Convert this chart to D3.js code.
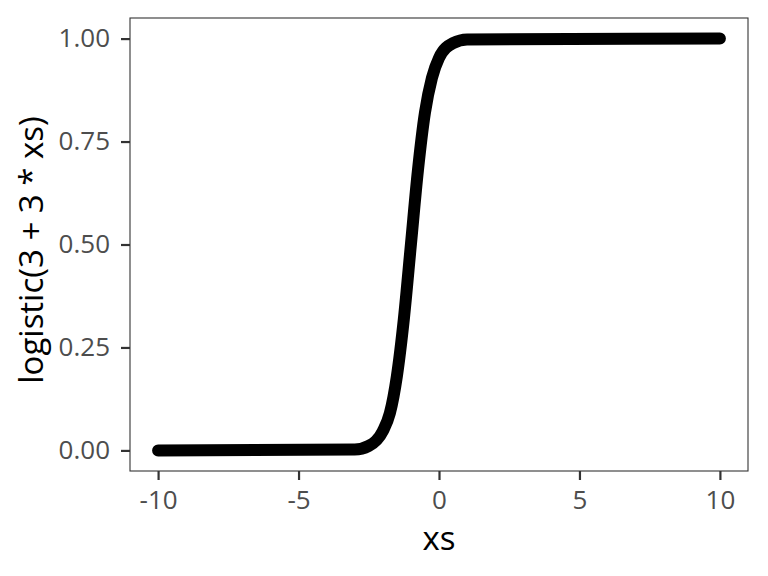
<!DOCTYPE html>
<html>
<head>
<meta charset="utf-8">
<script src="https://cdn.jsdelivr.net/npm/d3@7"></script>
<style>
  body { margin: 0; background: #fff; }
  text { font-family: "Open Sans", sans-serif; }
</style>
</head>
<body>
<svg id="chart" width="768" height="576"></svg>
<script>
// values
var xsValues = [-10, -3, -2.5, -2, -1.75, -1.5, -1.25, -1, -0.75, -0.5, -0.25, 0, 0.5, 1, 10];
var ysValues = [0, 0.002, 0.011, 0.047, 0.09, 0.18, 0.32, 0.5, 0.68, 0.82, 0.905, 0.953, 0.989, 0.998, 1];
var xTicks = [-10, -5, 0, 5, 10];
var yTicks = [0, 0.25, 0.5, 0.75, 1];

var margin = {left: 130, top: 18, right: 20, bottom: 105};
var W = 768, H = 576;
var pw = W - margin.left - margin.right,
    ph = H - margin.top - margin.bottom;

var svg = d3.select("#chart");
var g = svg.append("g").attr("transform", "translate(" + margin.left + "," + margin.top + ")");

var x = d3.scaleLinear().domain([-11, 11]).range([0, pw]);
var y = d3.scaleLinear().domain([-0.05, 1.05]).range([ph, 0]);

var data = xsValues.map(function (d, i) { return {x: d, y: ysValues[i]}; });

// the points are so dense they read as a thick line
var line = d3.line()
    .x(function (d) { return x(d.x); })
    .y(function (d) { return y(d.y); })
    .curve(d3.curveMonotoneX);

g.append("path")
    .datum(data)
    .attr("d", line)
    .attr("fill", "none")
    .attr("stroke", "#000")
    .attr("stroke-width", 12)
    .attr("stroke-linecap", "round")
    .attr("stroke-linejoin", "round");

// panel border
g.append("rect")
    .attr("x", 0).attr("y", 0)
    .attr("width", pw).attr("height", ph)
    .attr("fill", "none")
    .attr("stroke", "#333")
    .attr("stroke-width", 1.1);

var xAxis = d3.axisBottom(x).tickValues(xTicks).tickSize(9).tickPadding(11)
    .tickFormat(d3.format("d"));
var yAxis = d3.axisLeft(y).tickValues(yTicks).tickSize(9).tickPadding(11)
    .tickFormat(d3.format(".2f"));

var gx = g.append("g").attr("transform", "translate(0," + ph + ")").call(xAxis);
var gy = g.append("g").call(yAxis);

[gx, gy].forEach(function (a) {
    a.select(".domain").remove();
    a.selectAll(".tick line").attr("stroke", "#333").attr("stroke-width", 2.2);
    a.selectAll(".tick text")
        .attr("fill", "#4d4d4d")
        .style("font-size", "26px")
        .style("font-family", "'Open Sans', sans-serif");
});
gx.selectAll(".tick text").text(function (d) { return d3.format("d")(d).replace("−", "-"); });

svg.append("text")
    .attr("x", margin.left + pw / 2)
    .attr("y", 550)
    .attr("text-anchor", "middle")
    .style("font-size", "33px")
    .attr("fill", "#000")
    .text("xs");

svg.append("text")
    .attr("transform", "translate(43,250) rotate(-90)")
    .attr("text-anchor", "middle")
    .style("font-size", "33px")
    .attr("fill", "#000")
    .text("logistic(3 + 3 * xs)");
</script>
</body>
</html>
